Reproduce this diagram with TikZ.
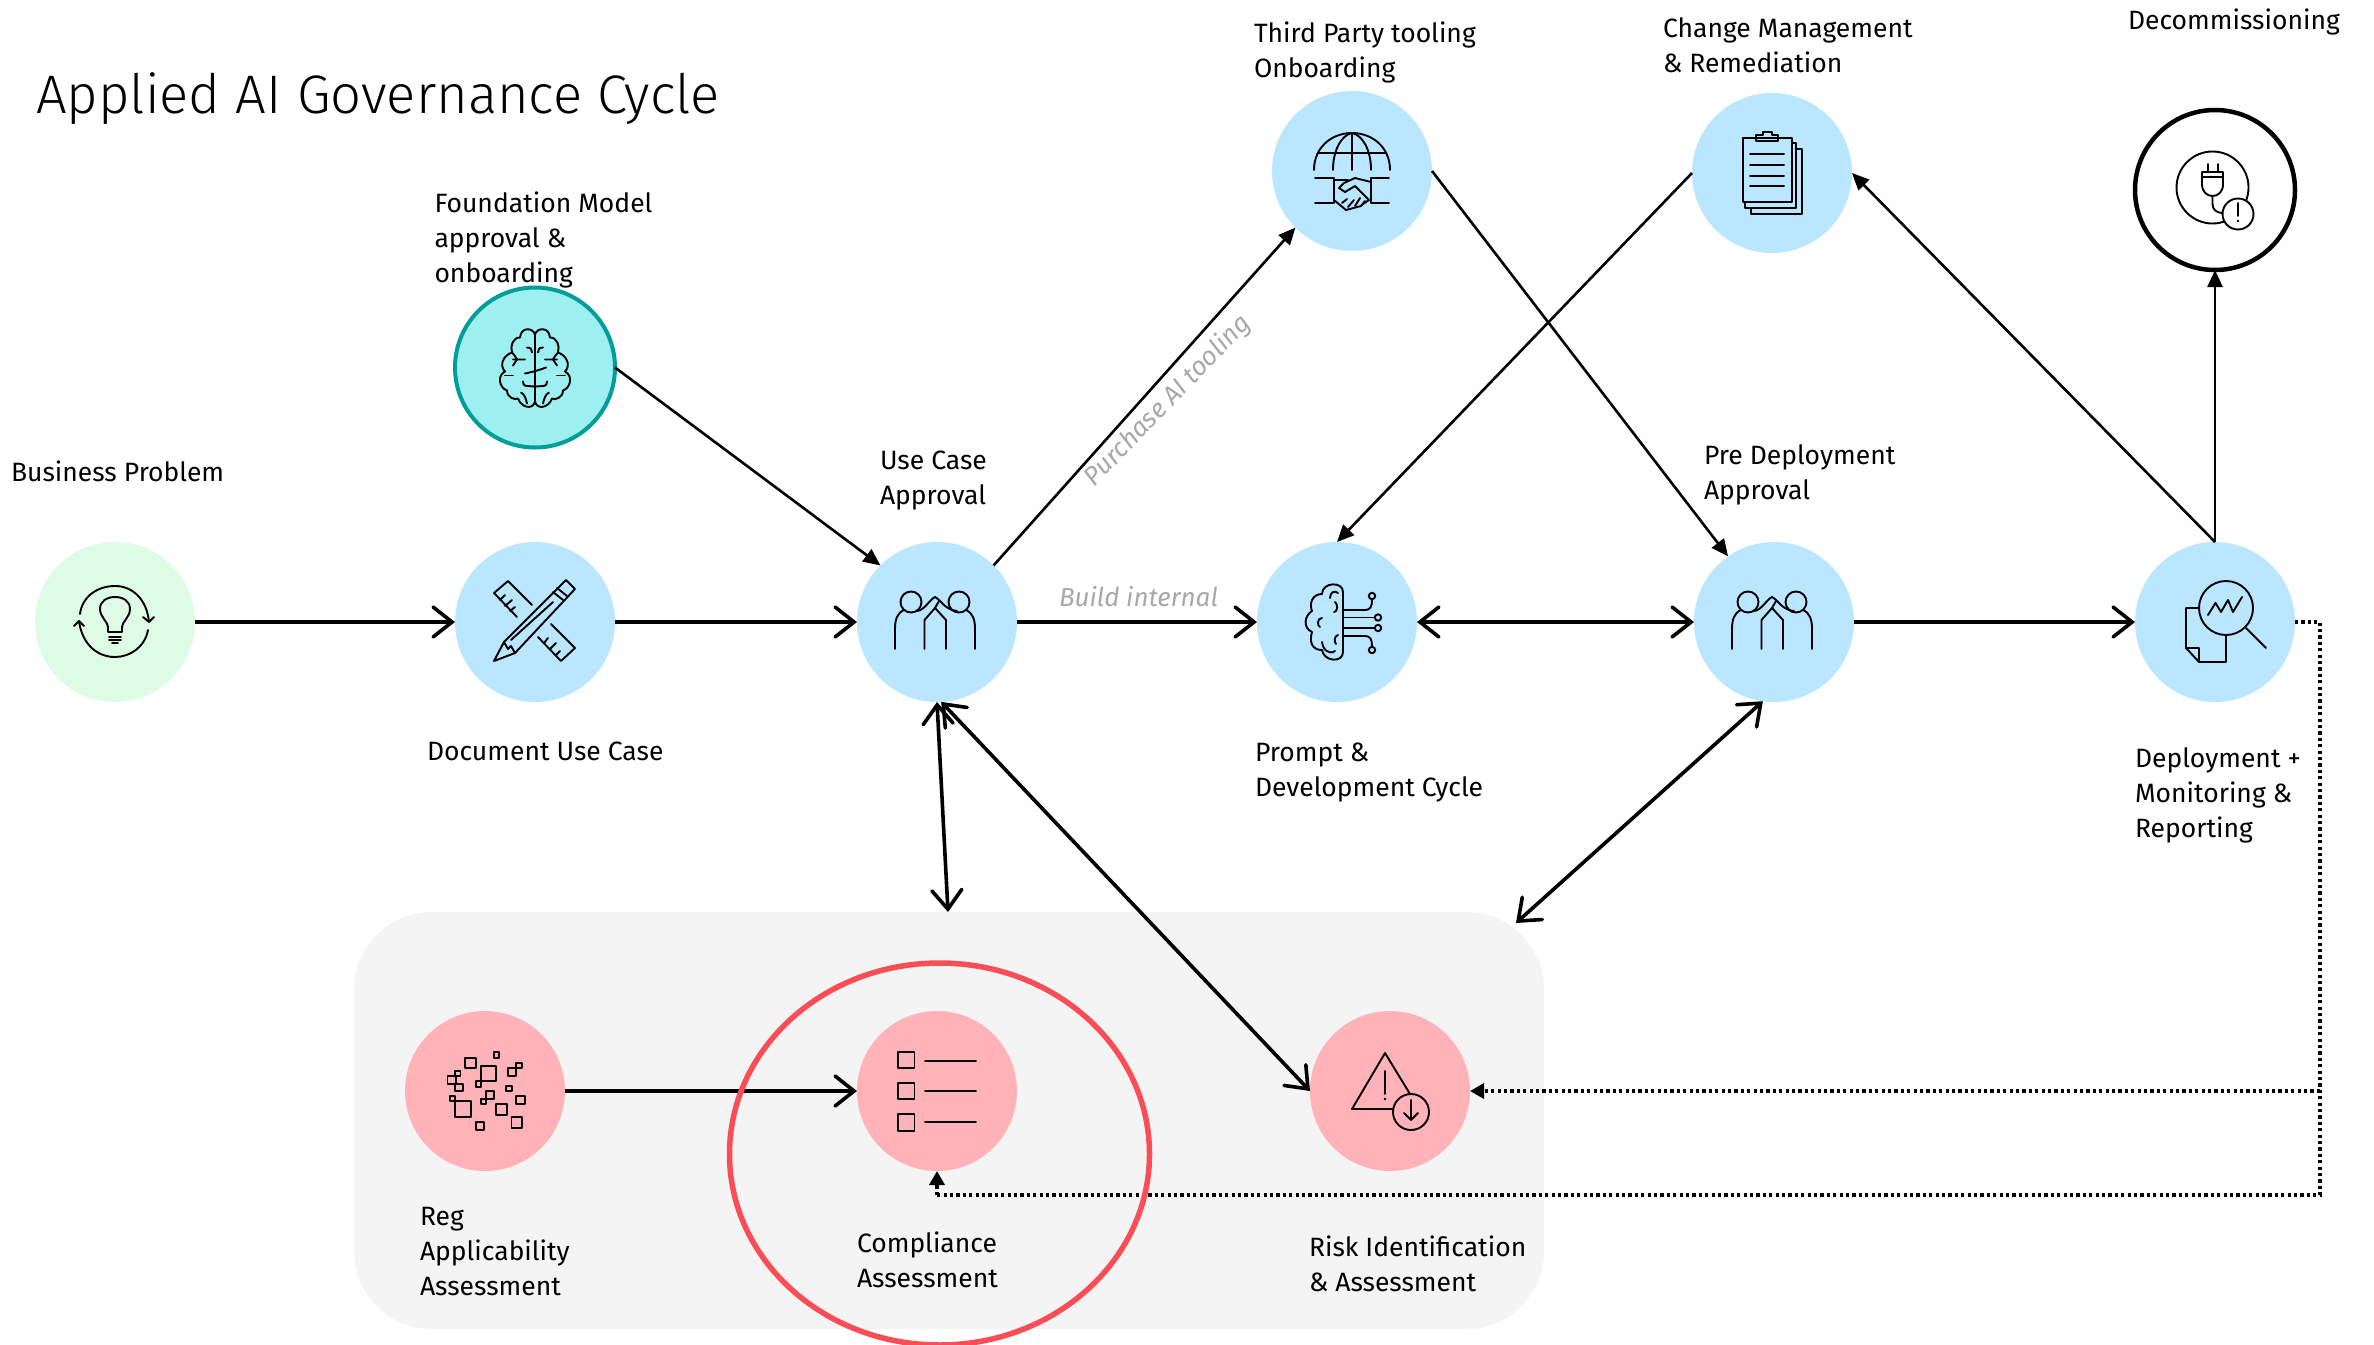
\documentclass[tikz,border=0pt]{standalone}
\usepackage{fontspec}
\setmainfont{Fira Sans}
\newfontfamily\titlefont{Fira Sans}[UprightFont=* Light]
\usetikzlibrary{arrows.meta,shapes.geometric,calc}
\definecolor{cblue}{HTML}{BAE6FF}
\definecolor{cgreen}{HTML}{DEFBE6}
\definecolor{cteal}{HTML}{9EF0F0}
\definecolor{ctealb}{HTML}{009D9A}
\definecolor{cpink}{HTML}{FFB3B8}
\definecolor{cbox}{HTML}{F4F4F4}
\definecolor{cred}{HTML}{FA4D56}
\definecolor{cnote}{HTML}{A8A8A8}
\tikzset{
  x=1pt,y=-1pt,
  stage/.style={circle,minimum size=160pt,inner sep=0pt,outer sep=0pt},
  blue stage/.style={stage,fill=cblue},
  pink stage/.style={stage,fill=cpink},
  lbl/.style={anchor=base west,align=left,inner sep=0pt,outer sep=0pt,font=\fontsize{26.5}{35}\selectfont,text=black},
  note/.style={inner sep=0pt,outer sep=0pt,font=\fontsize{26}{30}\selectfont\itshape,text=cnote},
  flow/.style={line width=3.6pt,black,-{Straight Barb[length=19pt,width=30pt,line cap=round]}},
  flowboth/.style={line width=3.6pt,black,{Straight Barb[length=19pt,width=30pt,line cap=round]}-{Straight Barb[length=19pt,width=30pt,line cap=round]}},
  link/.style={line width=2.6pt,black,-{Triangle[length=17pt,width=15pt]}},
  dots/.style={line width=3.4pt,black,dash pattern=on 3.2pt off 3.2pt},
  dotstip/.style={dots,-{Triangle[length=14pt,width=15pt,sep=0pt]}},
  iconline/.style={line width=1.9pt,black,line cap=round,line join=round},
}
\newcommand{\peopleicon}{%
  \draw (-26,-20) circle (10.5);
  \draw (-33,-12) .. controls (-40,-9) and (-42,-2) .. (-42,7) -- (-42,27);
  \draw (-20,-11) .. controls (-12,-12) and (-8,-22) .. (-2,-25) .. controls (4,-22) and (8,-12) .. (20,-11);
  \draw (-12.5,27) -- (-12.5,-2) -- (-2,-14) -- (9,-2) -- (9,27);
  \draw (-2,-14) -- (2,-21);
  \draw (22,-20) circle (10.5);
  \draw (29,-12) .. controls (36,-9) and (38,-2) .. (38,7) -- (38,27);
}
\newcommand{\sq}[4]{\draw (#1,#2) rectangle (#3,#4);}
\begin{document}
\begin{tikzpicture}
\useasboundingbox (0,0) rectangle (2374,1344);
\fill[white] (0,0) rectangle (2374,1344);
\node[draw=none,fill=cbox,rectangle,rounded corners=78pt,minimum width=1190pt,minimum height=417pt,inner sep=0pt,outer sep=0pt] (panel) at (949,1120.5) {};
% stages
\node[stage,fill=cgreen] (business) at (115,622) {};
\node[blue stage] (document) at (535,622) {};
\node[stage,fill=cteal,draw=ctealb,line width=4pt,minimum size=160pt] (foundation) at (535,367.5) {};
\node[blue stage] (usecase) at (937,622) {};
\node[blue stage] (prompt) at (1337,622) {};
\node[blue stage] (third) at (1352,171) {};
\node[blue stage] (change) at (1772,173) {};
\node[blue stage] (predeploy) at (1774,622) {};
\node[blue stage] (deploy) at (2215,622) {};
\node[stage,fill=white,draw=black,line width=4.5pt,minimum size=160pt] (decom) at (2215,190) {};
\node[pink stage] (reg) at (485,1091) {};
\node[pink stage] (compliance) at (937,1091) {};
\node[pink stage] (risk) at (1390,1091) {};
% free ends
\coordinate (paneltop) at (948,912);
\coordinate (panelcorner) at (1516,923);
\coordinate (dotcorner) at (2320,622);
\coordinate (dotmid) at (2320,1091);
\coordinate (dotlow) at (2320,1195);
\coordinate (dotleft) at (937,1195);
% connectors
\draw[flow] (business.east) -- (document.west);
\draw[flow] (document.east) -- (usecase.west);
\draw[link] (foundation.east) -- (usecase.135);
\draw[link] (usecase.45) -- (third.225);
\draw[flow] (usecase.east) -- (prompt.west);
\draw[flowboth] (prompt.east) -- (predeploy.west);
\draw[link] (third.east) -- (predeploy.125);
\draw[link] (change.west) -- (prompt.north);
\draw[flow] (predeploy.east) -- (deploy.west);
\draw[link] (deploy.north) -- (change.east);
\draw[link] (deploy.north) -- (decom.south);
\draw[flowboth] (usecase.-90) -- (paneltop);
\draw[flowboth] (usecase.-87) -- (risk.west);
\draw[flowboth] (predeploy.-98) -- (panelcorner);
\draw[flow] (reg.east) -- (compliance.west);
\draw[dots] (deploy.east) -- (dotcorner) -- (dotmid) -- (dotlow) -- (dotleft);
\draw[dotstip] (dotmid) -- (risk.east);
\draw[dotstip] (dotleft) -- (compliance.south);
% review ring
\node[ellipse,draw=cred,line width=5.5pt,minimum width=420pt,minimum height=382pt,inner sep=0pt,outer sep=0pt] (ring) at (939.5,1154) {};
% icons
\begin{scope}[shift={(business)},iconline]
  \draw (-35,-8) .. controls (-33,-25) and (-18,-36) .. (0,-36) .. controls (18,-36) and (32,-22) .. (34,0);
  \draw (28,-5) -- (34,0) -- (39,-5);
  \draw (33,8) .. controls (30,25) and (15,35) .. (0,35) .. controls (-18,35) and (-33,22) .. (-36,-1);
  \draw (-41,4) -- (-36,-1) -- (-31,4);
  \draw (-7,10) -- (-7,5) .. controls (-7,0) and (-15,-5) .. (-15,-13) .. controls (-15,-21) and (-8,-25) .. (0,-25) .. controls (8,-25) and (15,-21) .. (15,-13) .. controls (15,-5) and (7,0) .. (7,5) -- (7,10) -- cycle;
  \draw (-6,15) -- (6,15) (-6,18) -- (6,18) (-3,21) -- (3,21);
\end{scope}
\begin{scope}[shift={(document)},iconline]
  \draw (-41,39) -- (-31,20) -- (31,-42) -- (40,-33) -- (-20,31) -- cycle;
  \draw (18,-30) -- (28,-22) (22,-34) -- (32,-26);
  \draw (18,-20) -- (-24,18);
  \draw (-31,20) -- (-27,27) -- (-24,24) -- (-20,31);
  \draw (-3,-17) -- (-27,-41) -- (-41,-29) -- (-18,-5);
  \draw (-35,-22) -- (-30,-27) (-30,-16) -- (-23,-22) (-25,-11) -- (-20,-15);
  \draw (16,2) -- (40,26) -- (26,39) -- (3,15);
  \draw (9,21) -- (13,16) (15,27) -- (21,21) (21,33) -- (25,29);
\end{scope}
\begin{scope}[shift={(foundation)},iconline]
  \draw (0,-33) -- (0,34);
  \foreach \m in {1,-1}{
    \begin{scope}[xscale=\m]
      \draw (0,-33) .. controls (-2,-40) and (-14,-41) .. (-15,-30)
        .. controls (-22,-30) and (-25,-22) .. (-23,-15)
        .. controls (-32,-12) and (-36,-2) .. (-30,4)
        .. controls (-38,8) and (-36,20) .. (-28,23)
        .. controls (-28,30) and (-20,33) .. (-17,31)
        .. controls (-14,40) and (-2,43) .. (0,34);
      \draw (-23,-15) .. controls (-20,-12) and (-18,-8) .. (-18,-8) (-22,-8) -- (-10,-8);
      \draw (-18,-8) -- (-22,-2);
      \draw (-30,8) -- (-22,8);
      \draw (-8,-20) .. controls (-4,-20) and (-3,-18) .. (-3,-15);
      \draw (-12,14) .. controls (-12,20) and (-8,18) .. (-1,19);
      \draw (-14,25) .. controls (-10,27) and (-9,32) .. (-8,36);
    \end{scope}
  }
  \draw (-10,6) .. controls (-5,5) and (3,3) .. (11,0);
\end{scope}
\begin{scope}[shift={(usecase)},iconline]\peopleicon\end{scope}
\begin{scope}[shift={(prompt)},iconline]
  \draw (6,-30) .. controls (6,-41) and (-15,-40) .. (-15,-28) .. controls (-25,-28) and (-28,-18) .. (-25,-11)
    .. controls (-33,-6) and (-34,6) .. (-25,10) .. controls (-28,20) and (-25,28) .. (-15,28)
    .. controls (-13,40) and (6,41) .. (6,30) -- cycle;
  \draw (-7,-24) .. controls (-7,-30) and (-2,-32) .. (1,-29);
  \draw (-2,-20) .. controls (1,-18) and (1,-10) .. (-3,-10);
  \draw (-15,-4) .. controls (-20,-4) and (-20,4) .. (-17,5);
  \draw (1,13) .. controls (-3,14) and (-3,20) .. (-1,22);
  \draw (-15,20) .. controls (-14,28) and (-8,33) .. (-2,29);
  \draw (6,-12) -- (28,-12) .. controls (33,-12) and (35,-15) .. (35,-22);
  \draw (35,-26) circle (3.2);
  \draw (6,-4.5) -- (38,-4.5); \draw (41,-4.5) circle (3.2);
  \draw (6,6) -- (38,6); \draw (41,6) circle (3.2);
  \draw (6,14) -- (28,14) .. controls (33,14) and (35,17) .. (35,24);
  \draw (35,28) circle (3.2);
\end{scope}
\begin{scope}[shift={(third)},iconline]
  \draw (-38,-1) .. controls (-38,-24) and (-20,-38) .. (0,-38) .. controls (20,-38) and (38,-24) .. (38,-1);
  \draw (-19,-1) .. controls (-19,-22) and (-10,-36) .. (0,-38) .. controls (10,-36) and (19,-22) .. (19,-1);
  \draw (0,-38) -- (0,-1);
  \draw (-34,-18) -- (34,-18);
  \draw (-37,7) -- (-18,7) -- (-18,32) -- (-37,32);
  \draw (37,7) -- (19,7) -- (19,32) -- (37,32);
  \draw (-18,9) -- (-4,9);
  \draw (19,11) -- (3,7) -- (-8,12) -- (-13,17) -- (-7,21) -- (3,15) -- (17,29) -- (11,33);
  \draw (-18,29) -- (-6,39) -- (9,35) -- (13,30);
  \draw (-10,32) -- (-5,28) (-4,36) -- (2,29) (3,35) -- (8,27);
\end{scope}
\begin{scope}[shift={(change)},iconline]
  \draw (-21,35) -- (-21,41) -- (30,41) -- (30,-24) -- (24,-24);
  \draw (-27,29) -- (-27,35) -- (24,35) -- (24,-30) -- (20,-30);
  \draw (-29,-35) -- (20,-35) -- (20,29) -- (-29,29) -- cycle;
  \draw (-16,-32) -- (-16,-38) -- (-9,-38) -- (-9,-41) -- (0,-41) -- (0,-38) -- (6,-38) -- (6,-32) -- cycle;
  \draw (-22,-19) -- (12,-19) (-22,-8) -- (12,-8) (-22,3) -- (12,3) (-22,13) -- (12,13);
\end{scope}
\begin{scope}[shift={(decom)},iconline]
  \draw (-2.5,-2.5) circle (36);
  \draw (-7,-26) -- (-7,-18) (3,-26) -- (3,-18);
  \draw (-13,-18) -- (8,-18) -- (8,-6) .. controls (8,2) and (3,6) .. (-2.5,6) .. controls (-8,6) and (-13,2) .. (-13,-6) -- cycle;
  \draw (-13,-13) -- (8,-13);
  \draw (-2.5,6) -- (-2.5,14) .. controls (-2.5,20) and (2,23) .. (8,23);
  \draw[fill=white] (23,24) circle (15.5);
  \draw (23,13) -- (23,26);
  \fill (23,31) circle (1.3);
\end{scope}
\begin{scope}[shift={(predeploy)},iconline]\peopleicon\end{scope}
\begin{scope}[shift={(deploy)},iconline]
  \draw (11,-14) circle (27);
  \draw (31,6) -- (51,26);
  \draw (-7,-7) -- (0.5,-19) -- (6,-10) -- (13,-22) -- (18,-10) -- (27,-25);
  \draw (-16,-14) -- (-29,-14) -- (-29,26) -- (-16,40) -- (11,40) -- (11,13);
  \draw (-29,26) -- (-16,26) -- (-16,40);
\end{scope}
\begin{scope}[shift={(reg)},iconline]
  \sq{-19.6}{-33}{-9}{-23}\sq{8.6}{-38.7}{14.3}{-33}\sq{-4}{-25}{11.4}{-9.7}
  \sq{-30}{-20}{-24.5}{-15}\sq{-37.5}{-15}{-28.6}{-7}\sq{-30}{-7}{-22.4}{0.3}
  \sq{-9.4}{-10}{-4}{-4}\sq{23.3}{-22.7}{31.4}{-15}\sq{31.4}{-28}{36.7}{-22.7}
  \sq{21.2}{-5}{27}{0.3}\sq{31.4}{5.3}{39.6}{13.3}\sq{1.2}{0.3}{8.6}{8}
  \sq{-4}{8}{1.2}{13.3}\sq{-34.7}{5.3}{-29.8}{10.3}\sq{-29.8}{10.3}{-14.3}{26.3}
  \sq{11.4}{13.3}{21.6}{23.7}\sq{26.5}{26.3}{37}{36.7}\sq{-9.4}{31}{-1.2}{39.3}
\end{scope}
\begin{scope}[shift={(compliance)},iconline]
  \sq{-39}{-39}{-22.5}{-23}\sq{-39}{-8}{-22.5}{8}\sq{-39}{23}{-22.5}{40}
  \draw (-12,-30) -- (39,-30) (-12,0) -- (39,0) (-12,31) -- (39,31);
\end{scope}
\begin{scope}[shift={(risk)},iconline]
  \draw (3,18) -- (-38,18) -- (-5,-38) -- (20,3);
  \draw (-5,-20) -- (-5,3);
  \fill (-5,8) circle (1.3);
  \draw (21,21) circle (18);
  \draw (21,9) -- (21,29) (14,22) -- (21,29) -- (28,22);
\end{scope}
% labels
\node[anchor=base west,inner sep=0pt,outer sep=0pt,font=\fontsize{54.3}{60}\titlefont] (title) at (36,113.5) {Applied AI Governance Cycle};
\node[lbl] (lfoundation) at (434.5,282) {Foundation Model\\approval \&\\onboarding};
\node[lbl] (lbusiness) at (11,481) {Business Problem};
\node[lbl] (ldocument) at (427,760) {Document Use Case};
\node[lbl] (lusecase) at (880,504.5) {Use Case\\Approval};
\node[lbl] (lprompt) at (1255,796) {Prompt \&\\Development Cycle};
\node[lbl] (lthird) at (1254,77.5) {Third Party tooling\\Onboarding};
\node[lbl] (lchange) at (1663,72) {Change Management\\\& Remediation};
\node[lbl] (ldecom) at (2128,29) {Decommissioning};
\node[lbl] (lpre) at (1704,499) {Pre Deployment\\Approval};
\node[lbl] (ldeploy) at (2135,837.5) {Deployment +\\Monitoring \&\\Reporting};
\node[lbl] (lreg) at (420,1295) {Reg\\Applicability\\Assessment};
\node[lbl] (lcompliance) at (857,1287) {Compliance\\Assessment};
\node[lbl] (lrisk) at (1309,1291.5) {Risk Identification\\\& Assessment};
\node[note,anchor=base west] (nbuild) at (1059,606) {Build internal};
\node[note,rotate=46] (npurchase) at (1168,401) {Purchase AI tooling};
\end{tikzpicture}
\end{document}
